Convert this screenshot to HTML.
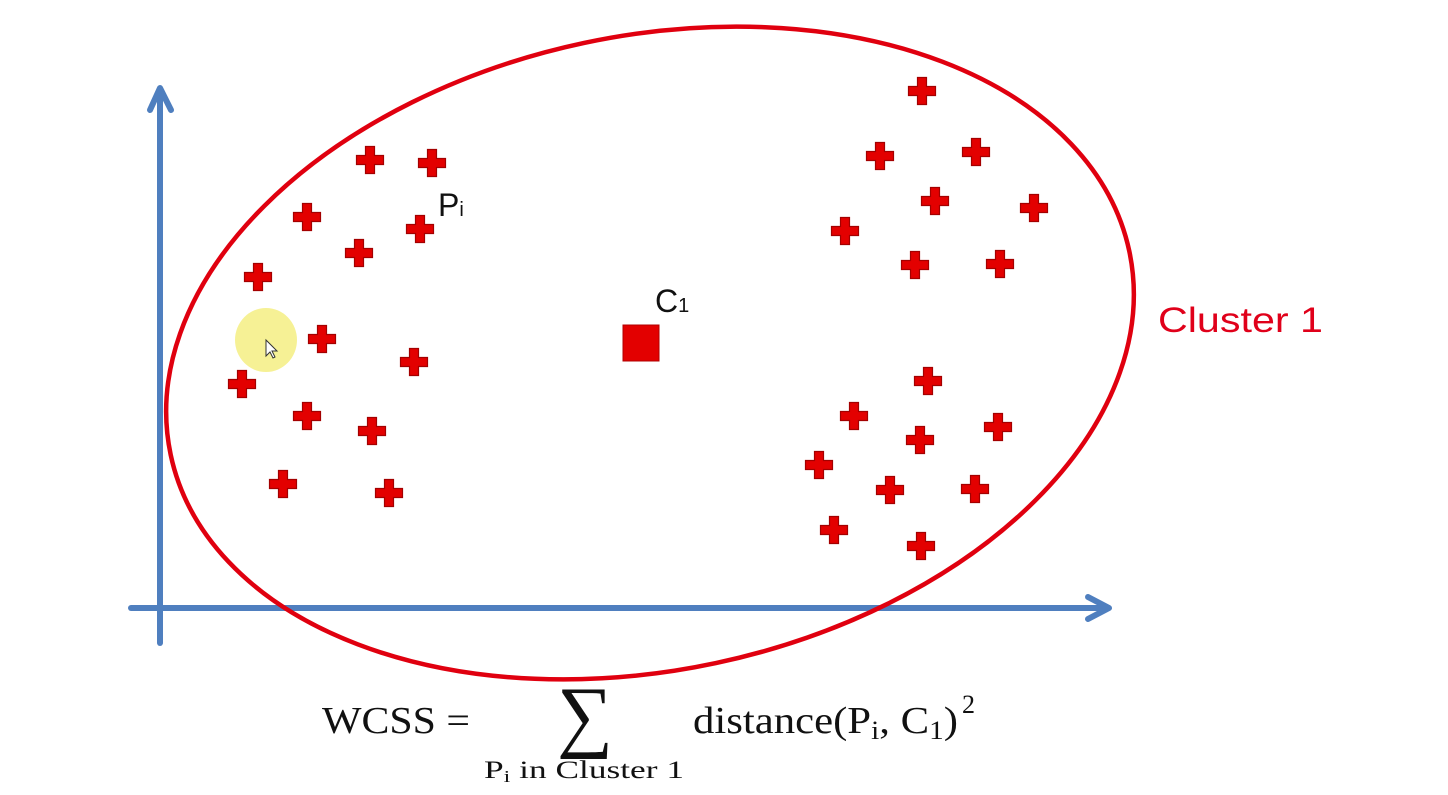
<!DOCTYPE html>
<html><head><meta charset="utf-8"><style>
html,body{margin:0;padding:0;background:#fff;}
svg{display:block;}
</style></head><body>
<svg width="1448" height="795" viewBox="0 0 1448 795" xmlns="http://www.w3.org/2000/svg">
<defs>
<path id="p" d="M-4.5,-13.5 h9 v9 h9 v9 h-9 v9 h-9 v-9 h-9 v-9 h9 z" fill="#e30000" stroke="#a30000" stroke-width="1.2"/>
</defs>
<rect width="1448" height="795" fill="#fff"/>
<ellipse cx="266" cy="340" rx="31" ry="32" fill="#f5f08a" opacity="0.9"/>
<g stroke="#4f7fbf" stroke-width="6" fill="none" stroke-linecap="round" stroke-linejoin="round">
<line x1="160" y1="90" x2="160" y2="643"/>
<polyline points="150,110 160,88 171,110"/>
<line x1="131" y1="608" x2="1106" y2="608"/>
<polyline points="1088,597 1109,608 1088,619"/>
</g>
<ellipse cx="650" cy="353" rx="490" ry="317" transform="rotate(-12 650 353)" fill="none" stroke="#e0000f" stroke-width="4.5"/>
<g>
<use href="#p" x="370" y="160"/><use href="#p" x="432" y="163"/><use href="#p" x="307" y="217"/><use href="#p" x="420" y="229"/><use href="#p" x="359" y="253"/><use href="#p" x="258" y="277"/><use href="#p" x="322" y="339"/><use href="#p" x="414" y="362"/><use href="#p" x="242" y="384"/><use href="#p" x="307" y="416"/><use href="#p" x="372" y="431"/><use href="#p" x="283" y="484"/><use href="#p" x="389" y="493"/>
<use href="#p" x="922" y="91"/><use href="#p" x="880" y="156"/><use href="#p" x="976" y="152"/><use href="#p" x="935" y="201"/><use href="#p" x="1034" y="208"/><use href="#p" x="845" y="231"/><use href="#p" x="915" y="265"/><use href="#p" x="1000" y="264"/><use href="#p" x="928" y="381"/><use href="#p" x="854" y="416"/><use href="#p" x="998" y="427"/><use href="#p" x="920" y="440"/><use href="#p" x="819" y="465"/><use href="#p" x="890" y="490"/><use href="#p" x="975" y="489"/><use href="#p" x="834" y="530"/><use href="#p" x="921" y="546"/>
</g>
<rect x="623" y="325" width="36" height="36" fill="#e30000" stroke="#b00000" stroke-width="1"/>
<path d="M266,340 v16 l4,-4 l3,6 l2,-1 l-3,-6 h5 z" fill="#fff" stroke="#333" stroke-width="1"/>
<text x="438" y="216" font-family="Liberation Sans, sans-serif" font-size="32" fill="#111">P<tspan font-size="20">i</tspan></text>
<text x="655" y="312" font-family="Liberation Sans, sans-serif" font-size="32" fill="#111">C<tspan font-size="20">1</tspan></text>
<text x="1158" y="332" font-family="Liberation Sans, sans-serif" font-size="35" fill="#e0001a" textLength="165" lengthAdjust="spacingAndGlyphs">Cluster 1</text>
<g font-family="Liberation Serif, serif" fill="#111">
<text x="322" y="733" font-size="38" textLength="148" lengthAdjust="spacingAndGlyphs">WCSS =</text>
<text x="557" y="742" font-size="80" textLength="56" lengthAdjust="spacingAndGlyphs">∑</text>
<text x="693" y="733" font-size="38" textLength="265" lengthAdjust="spacingAndGlyphs">distance(P<tspan font-size="26" dy="6">i</tspan><tspan dy="-6">, C</tspan><tspan font-size="26" dy="6">1</tspan><tspan dy="-6">)</tspan></text>
<text x="962" y="713" font-size="26">2</text>
<text x="484" y="778" font-size="25" textLength="200" lengthAdjust="spacingAndGlyphs">P<tspan font-size="17" dy="4">i</tspan><tspan dy="-4"> in Cluster 1</tspan></text>
</g>
</svg>
</body></html>
